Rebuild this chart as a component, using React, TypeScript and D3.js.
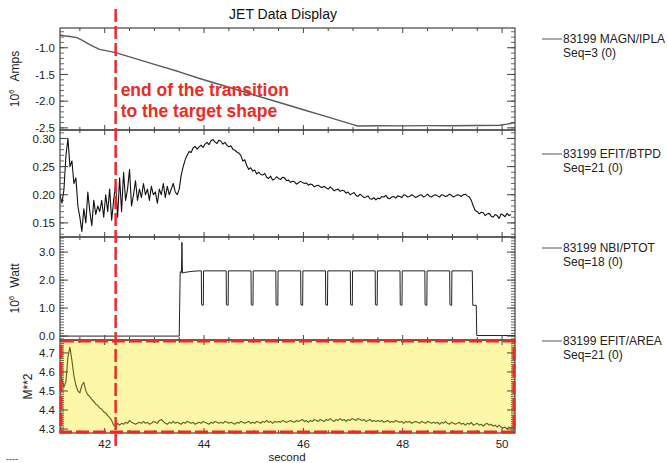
import React from "react";
import * as d3 from "d3";

const TITLE = "JET Data Display";
const X_DOMAIN = [41.1, 50.26];
const X_MAJOR = [42, 44, 46, 48, 50];
const X_MINOR_STEP = 0.5;
const X_LABEL = "second";
const TRANSITION_TIME = 42.22;
const ANNOTATION = ["end of the transition", "to the target shape"];

// MAGN/IPLA (10^6 A)
const IPLA_T = [41.1, 41.2, 41.3, 41.44, 41.55, 41.7, 41.8, 41.9, 42.0, 42.22, 42.6, 43.0, 43.5, 43.91, 44.5, 44.98, 45.5, 46.0, 46.5, 47.0, 47.09, 47.5, 48.0, 48.5, 49.0, 49.5, 49.95, 50.1, 50.26];
const IPLA_V = [-0.76, -0.78, -0.79, -0.81, -0.86, -0.94, -0.99, -1.03, -1.05, -1.09, -1.2, -1.31, -1.45, -1.575, -1.74, -1.876, -2.02, -2.16, -2.3, -2.44, -2.465, -2.46, -2.462, -2.458, -2.46, -2.455, -2.45, -2.43, -2.4];

// EFIT/BTPD, sampled every 0.04 s from 41.10 s
const BTPD_T0 = 41.1;
const BTPD_DT = 0.04;
const BTPD_V = [
  0.20, 0.185, 0.21, 0.27, 0.30, 0.25, 0.26, 0.22, 0.23, 0.18,
  0.16, 0.135, 0.175, 0.15, 0.205, 0.17, 0.145, 0.19, 0.165, 0.18,
  0.17, 0.19, 0.16, 0.20, 0.17, 0.21, 0.155, 0.19, 0.22, 0.16,
  0.23, 0.17, 0.24, 0.19, 0.21, 0.245, 0.18, 0.20, 0.225, 0.19,
  0.21, 0.195, 0.22, 0.20, 0.21, 0.19, 0.215, 0.20, 0.205, 0.185,
  0.21, 0.20, 0.22, 0.195, 0.215, 0.20, 0.21, 0.22, 0.205, 0.20,
  0.21, 0.235, 0.25, 0.262, 0.27, 0.277, 0.275, 0.283, 0.286, 0.281,
  0.285, 0.288, 0.284, 0.29, 0.293, 0.289, 0.296, 0.298, 0.294, 0.291,
  0.297, 0.295, 0.29, 0.293, 0.288, 0.285, 0.287, 0.281, 0.279, 0.276,
  0.274, 0.27, 0.26, 0.262, 0.252, 0.245, 0.248, 0.242, 0.244, 0.237,
  0.24, 0.236, 0.235, 0.238, 0.231, 0.229, 0.233, 0.226, 0.228, 0.232,
  0.229, 0.227, 0.231, 0.23, 0.225, 0.226, 0.222, 0.224, 0.223, 0.219,
  0.221, 0.224, 0.222, 0.22, 0.221, 0.217, 0.219, 0.218, 0.214, 0.216,
  0.217, 0.214, 0.213, 0.215, 0.212, 0.21, 0.214, 0.211, 0.207, 0.209,
  0.21, 0.206, 0.208, 0.207, 0.203, 0.205, 0.2, 0.202, 0.204, 0.199,
  0.197, 0.201, 0.198, 0.195, 0.196, 0.198, 0.193, 0.192, 0.195, 0.191,
  0.194, 0.193, 0.197, 0.196, 0.199, 0.194, 0.193, 0.196, 0.197, 0.194,
  0.198, 0.197, 0.195, 0.2, 0.199, 0.196, 0.197, 0.2, 0.198, 0.195,
  0.197, 0.199, 0.2, 0.196, 0.198, 0.201, 0.197, 0.196, 0.199, 0.2,
  0.198, 0.196, 0.2, 0.199, 0.197, 0.198, 0.201, 0.199, 0.196, 0.198,
  0.2, 0.199, 0.197, 0.2, 0.201, 0.198, 0.196, 0.19, 0.18, 0.172,
  0.17, 0.166, 0.169, 0.168, 0.163, 0.166, 0.167, 0.162, 0.16, 0.165,
  0.163, 0.158, 0.166, 0.164, 0.161, 0.167, 0.163, 0.165,
];

// NBI/PTOT (10^6 W)
const PTOT_T = [
  41.1, 43.5, 43.52, 43.545, 43.555, 43.565, 43.6, 43.7, 43.8, 43.9,
  43.945, 43.95, 43.985, 43.99,
  44.445, 44.45, 44.485, 44.49,
  44.945, 44.95, 44.985, 44.99,
  45.445, 45.45, 45.485, 45.49,
  45.945, 45.95, 45.985, 45.99,
  46.445, 46.45, 46.485, 46.49,
  46.945, 46.95, 46.985, 46.99,
  47.445, 47.45, 47.485, 47.49,
  47.945, 47.95, 47.985, 47.99,
  48.445, 48.45, 48.485, 48.49,
  48.945, 48.95, 48.985, 48.99,
  49.4, 49.41, 49.48, 49.49, 50.26,
];
const PTOT_V = [
  0.0, 0.0, 2.3, 2.27, 3.35, 2.25, 2.27, 2.3, 2.32, 2.33,
  2.33, 1.12, 1.1, 2.33,
  2.33, 1.12, 1.1, 2.33,
  2.33, 1.12, 1.1, 2.33,
  2.33, 1.12, 1.1, 2.33,
  2.33, 1.12, 1.1, 2.33,
  2.33, 1.12, 1.1, 2.33,
  2.33, 1.12, 1.1, 2.33,
  2.33, 1.12, 1.1, 2.33,
  2.33, 1.12, 1.1, 2.33,
  2.33, 1.12, 1.1, 2.33,
  2.33, 1.12, 1.1, 2.33,
  2.33, 1.1, 1.1, 0.02, 0.02,
];

// EFIT/AREA (m^2), sampled every 0.04 s from 41.10 s
const AREA_T0 = 41.1;
const AREA_DT = 0.04;
const AREA_V = [
  4.60, 4.56, 4.52, 4.55, 4.68, 4.73, 4.66, 4.58, 4.53, 4.50,
  4.49, 4.53, 4.545, 4.50, 4.48, 4.47, 4.455, 4.445, 4.43, 4.425,
  4.41, 4.405, 4.39, 4.385, 4.37, 4.36, 4.345, 4.32, 4.31, 4.33,
  4.32, 4.33, 4.325, 4.335, 4.33, 4.345, 4.335, 4.33, 4.325, 4.33,
  4.335, 4.33, 4.34, 4.33, 4.335, 4.325, 4.33, 4.34, 4.335, 4.33,
  4.345, 4.35, 4.34, 4.33, 4.325, 4.335, 4.33, 4.34, 4.33, 4.335,
  4.33, 4.325, 4.335, 4.33, 4.34, 4.335, 4.33, 4.335, 4.325, 4.33,
  4.335, 4.33, 4.34, 4.335, 4.33, 4.325, 4.335, 4.33, 4.34, 4.335,
  4.33, 4.335, 4.33, 4.34, 4.335, 4.33, 4.335, 4.33, 4.325, 4.335,
  4.33, 4.34, 4.335, 4.33, 4.335, 4.34, 4.33, 4.335, 4.33, 4.34,
  4.335, 4.33, 4.34, 4.335, 4.345, 4.335, 4.34, 4.33, 4.34, 4.335,
  4.34, 4.335, 4.345, 4.34, 4.335, 4.34, 4.345, 4.34, 4.335, 4.345,
  4.34, 4.345, 4.35, 4.34, 4.345, 4.335, 4.345, 4.34, 4.35, 4.345,
  4.34, 4.35, 4.345, 4.34, 4.35, 4.345, 4.355, 4.345, 4.34, 4.35,
  4.345, 4.355, 4.345, 4.35, 4.34, 4.35, 4.345, 4.355, 4.35, 4.345,
  4.355, 4.35, 4.345, 4.35, 4.34, 4.345, 4.35, 4.34, 4.345, 4.34,
  4.345, 4.34, 4.345, 4.335, 4.34, 4.345, 4.335, 4.34, 4.335, 4.345,
  4.34, 4.335, 4.34, 4.33, 4.34, 4.335, 4.34, 4.33, 4.335, 4.34,
  4.335, 4.33, 4.34, 4.335, 4.33, 4.34, 4.335, 4.33, 4.335, 4.33,
  4.335, 4.325, 4.335, 4.33, 4.34, 4.33, 4.325, 4.335, 4.33, 4.325,
  4.33, 4.335, 4.325, 4.33, 4.32, 4.33, 4.325, 4.335, 4.32, 4.325,
  4.33, 4.32, 4.325, 4.315, 4.325, 4.33, 4.32, 4.325, 4.315, 4.32,
  4.31, 4.32, 4.31, 4.305, 4.31, 4.3, 4.31, 4.305, 4.31, 4.305,
];

const IPLA_TICKS = [-2.5, -2.0, -1.5, -1.0];
const IPLA_LABELS = ["-2.5", "-2.0", "-1.5", "-1.0"];
const BTPD_TICKS = [0.15, 0.2, 0.25, 0.3];
const BTPD_LABELS = ["0.15", "0.20", "0.25", "0.30"];
const PTOT_TICKS = [0, 1, 2, 3];
const PTOT_LABELS = ["0.0", "1.0", "2.0", "3.0"];
const AREA_TICKS = [4.3, 4.4, 4.5, 4.6, 4.7];
const AREA_LABELS = ["4.3", "4.4", "4.5", "4.6", "4.7"];

const LEGEND_NAMES = ["83199 MAGN/IPLA", "83199 EFIT/BTPD", "83199 NBI/PTOT", "83199 EFIT/AREA"];
const LEGEND_SEQS = ["Seq=3 (0)", "Seq=21 (0)", "Seq=18 (0)", "Seq=21 (0)"];

const FONT = "'Liberation Sans', Arial, Helvetica, sans-serif";
const RED = "#ee2a24";

type Panel = {
  top: number;
  bottom: number;
  domain: [number, number];
  ticks: number[];
  labels: string[];
  minor: number;
  t: number[];
  v: number[];
  color: string;
  width: number;
  unit?: string;
  exp?: boolean;
  unitX: number;
  legendY: number;
};

const uniformTimes = (t0: number, dt: number, n: number) => d3.range(n).map((i) => t0 + i * dt);

export default function App() {
  const L = 60, R = 515;
  const x = d3.scaleLinear().domain(X_DOMAIN).range([L, R]);

  const panels: Panel[] = [
    { top: 28, bottom: 130, domain: [-2.54, -0.63], ticks: IPLA_TICKS, labels: IPLA_LABELS, minor: 0.1, t: IPLA_T, v: IPLA_V, color: "#5a5a5a", width: 1.4, unit: "Amps", exp: true, unitX: 19, legendY: 39 },
    { top: 130, bottom: 237, domain: [0.125, 0.315], ticks: BTPD_TICKS, labels: BTPD_LABELS, minor: 0.01, t: uniformTimes(BTPD_T0, BTPD_DT, BTPD_V.length), v: BTPD_V, color: "#111", width: 1.1, unitX: 0, legendY: 154 },
    { top: 237, bottom: 340, domain: [-0.14, 3.54], ticks: PTOT_TICKS, labels: PTOT_LABELS, minor: 0.1, t: PTOT_T, v: PTOT_V, color: "#222", width: 1, unit: "Watt", exp: true, unitX: 19, legendY: 248 },
    { top: 340, bottom: 433, domain: [4.279, 4.768], ticks: AREA_TICKS, labels: AREA_LABELS, minor: 0.01, t: uniformTimes(AREA_T0, AREA_DT, AREA_V.length), v: AREA_V, color: "#626228", width: 1.15, unit: "M**2", exp: false, unitX: 32, legendY: 341 },
  ];

  const xMinor = d3.range(Math.ceil(X_DOMAIN[0] / X_MINOR_STEP) * X_MINOR_STEP, X_DOMAIN[1], X_MINOR_STEP);
  const axisColor = "#444";

  return (
    <svg width={668} height={463} style={{ position: "absolute", left: 0, top: 0, background: "#fff" }} fontFamily={FONT}>
      <rect x={0} y={0} width={668} height={463} fill="#fff" />
      <text x={283} y={19} fontSize={14} textAnchor="middle" fill="#111">{TITLE}</text>

      {/* yellow highlight background of bottom panel */}
      <rect x={L} y={340} width={R - L} height={433 - 340} fill="#fcf8a8" />

      {panels.map((p, pi) => {
        const y = d3.scaleLinear().domain(p.domain).range([p.bottom, p.top]);
        const line = d3.line<number>().x((_, i) => x(p.t[i])).y((d) => y(d));
        const minors = d3.range(Math.ceil(p.domain[0] / p.minor - 1e-6) * p.minor, p.domain[1], p.minor);
        const midY = (p.top + p.bottom) / 2;
        return (
          <g key={pi}>
            <defs>
              <clipPath id={`clip${pi}`}>
                <rect x={L} y={p.top} width={R - L} height={p.bottom - p.top} />
              </clipPath>
            </defs>
            <path d={line(p.v) || ""} fill="none" stroke={p.color} strokeWidth={p.width} strokeLinejoin="round" clipPath={`url(#clip${pi})`} />
            <rect x={L} y={p.top} width={R - L} height={p.bottom - p.top} fill="none" stroke={axisColor} strokeWidth={1.2} />
            {minors.map((m, i) => (
              <g key={"m" + i}>
                <line x1={L} x2={L + 4} y1={y(m)} y2={y(m)} stroke={axisColor} strokeWidth={0.8} />
                <line x1={R} x2={R - 4} y1={y(m)} y2={y(m)} stroke={axisColor} strokeWidth={0.8} />
              </g>
            ))}
            {p.ticks.map((tv, i) => (
              <g key={"t" + i}>
                <line x1={L} x2={L + 8} y1={y(tv)} y2={y(tv)} stroke={axisColor} strokeWidth={1} />
                <line x1={R} x2={R - 8} y1={y(tv)} y2={y(tv)} stroke={axisColor} strokeWidth={1} />
                <text x={55} y={y(tv)} dy="0.36em" fontSize={11.5} textAnchor="end" fill="#222">{p.labels[i]}</text>
              </g>
            ))}
            {xMinor.map((m, i) => {
              const major = X_MAJOR.includes(m);
              const len = major ? 5 : 3;
              return (
                <g key={"x" + i}>
                  <line x1={x(m)} x2={x(m)} y1={p.top} y2={p.top + len} stroke={axisColor} strokeWidth={1} />
                  <line x1={x(m)} x2={x(m)} y1={p.bottom} y2={p.bottom - len} stroke={axisColor} strokeWidth={1} />
                </g>
              );
            })}
            {p.unit && (
              <text transform={`translate(${p.unitX},${midY}) rotate(-90)`} fontSize={12} textAnchor="middle" fill="#222">
                {p.exp ? (
                  <>
                    <tspan>10</tspan>
                    <tspan fontSize={8} dy={-5}>6</tspan>
                    <tspan dy={5} dx={8}>{p.unit}</tspan>
                  </>
                ) : (
                  p.unit
                )}
              </text>
            )}
            <line x1={542} x2={562} y1={p.legendY} y2={p.legendY} stroke="#555" strokeWidth={1} />
            <text x={563} y={p.legendY} dy="0.36em" fontSize={12} fill="#222">{LEGEND_NAMES[pi]}</text>
            <text x={563} y={p.legendY + 14} dy="0.36em" fontSize={12} fill="#222">{LEGEND_SEQS[pi]}</text>
          </g>
        );
      })}

      {X_MAJOR.map((m) => (
        <text key={m} x={x(m)} y={448} fontSize={11.5} textAnchor="middle" fill="#222">{m}</text>
      ))}
      <text x={287} y={461} fontSize={11.5} textAnchor="middle" fill="#222">{X_LABEL}</text>

      {/* red dashed highlight frame of bottom panel */}
      <rect x={L + 1} y={341} width={R - L - 2} height={433 - 342} fill="none" stroke={RED} strokeWidth={3} strokeDasharray="13 4" />

      {/* transition marker */}
      <line x1={x(TRANSITION_TIME)} x2={x(TRANSITION_TIME)} y1={9} y2={446} stroke={RED} strokeWidth={2.5} strokeDasharray="13 4" />
      <text x={x(TRANSITION_TIME) + 5} y={96} fontSize={17.5} fontWeight="bold" fill={RED}>{ANNOTATION[0]}</text>
      <text x={x(TRANSITION_TIME) + 5} y={117} fontSize={17.5} fontWeight="bold" fill={RED}>{ANNOTATION[1]}</text>

      <text x={6} y={462} fontSize={9} fill="#333">----</text>
    </svg>
  );
}
